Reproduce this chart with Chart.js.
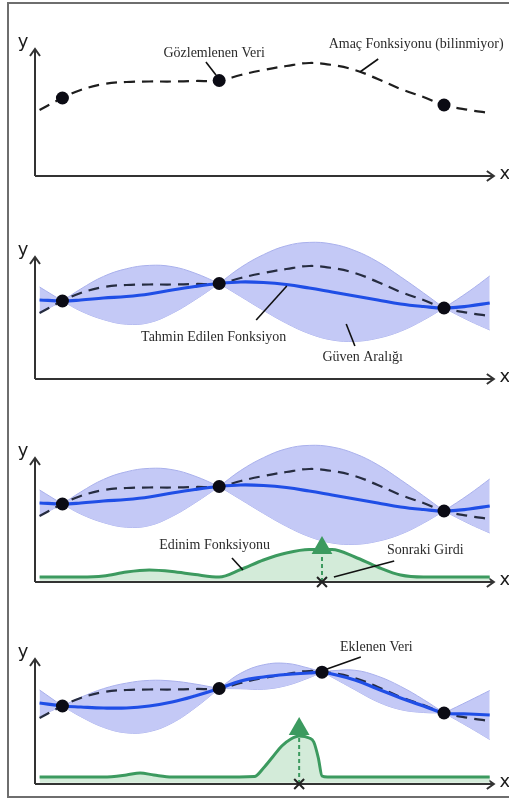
<!DOCTYPE html>
<html>
<head>
<meta charset="utf-8">
<script src="https://cdn.jsdelivr.net/npm/chart.js@4.4.1/dist/chart.umd.min.js"></script>
<style>
    html, body { margin: 0; padding: 0; background: #fff; width: 509px; height: 801px; overflow: hidden; }
    .frame { position: absolute; left: 7px; top: 2px; width: 560px; height: 796px; box-sizing: border-box; border: 2px solid #6e6e6e; }
    canvas { position: absolute; left: 0; }
</style>
</head>
<body>
<div class="frame"></div>
<canvas id="p1" width="509" height="200" style="top:0px"></canvas>
<canvas id="p2" width="509" height="200" style="top:203px"></canvas>
<canvas id="p3" width="509" height="200" style="top:406px"></canvas>
<canvas id="p4" width="509" height="200" style="top:608px"></canvas>
<script>
// sample positions along x (0 = y axis, 10 = end of x axis)
const xGrid = [0.1, 0.6, 1.0, 1.5, 2.0, 2.5, 3.0, 3.5, 4.03, 4.5, 5.0, 5.5, 6.0, 6.5, 7.0, 7.5, 8.0, 8.5, 8.95, 9.5, 9.95];
const xGrid4 = [0.1, 0.6, 1.0, 1.5, 2.0, 2.5, 3.0, 3.5, 4.03, 4.5, 5.0, 5.5, 6.0, 6.28, 6.5, 7.0, 7.5, 8.0, 8.5, 8.95, 9.5, 9.95];

// true objective (dashed)
const objective = [5.28, 6.24, 6.88, 7.36, 7.52, 7.56, 7.56, 7.6, 7.64, 8.08, 8.48, 8.8, 9.04, 8.88, 8.48, 7.76, 6.96, 6.32, 5.68, 5.28, 5.04];

// observations
const obsX = [0.6, 4.03, 8.95];
const obsY = [6.24, 7.64, 5.68];
const newX = 6.28;
const newY = 8.95;

// surrogate with 3 observations (panels 2 and 3)
const mean3 = [6.32, 6.24, 6.32, 6.48, 6.6, 6.8, 7.12, 7.4, 7.64, 7.76, 7.72, 7.56, 7.28, 6.96, 6.64, 6.32, 6.0, 5.8, 5.68, 5.84, 6.08];
const upper3 = [7.36, 6.24, 7.2, 8.21, 8.82, 9.09, 8.99, 8.47, 7.64, 8.92, 9.95, 10.66, 10.93, 10.8, 10.27, 9.38, 8.18, 6.89, 5.68, 7.02, 8.24];
const lower3 = [5.28, 6.24, 5.44, 4.75, 4.38, 4.51, 5.25, 6.33, 7.64, 6.6, 5.49, 4.46, 3.63, 3.12, 3.01, 3.26, 3.82, 4.71, 5.68, 4.66, 3.92];

// surrogate with 4 observations (panel 4)
const mean4 = [6.48, 6.24, 6.16, 6.08, 6.08, 6.24, 6.56, 7.04, 7.64, 8.24, 8.56, 8.76, 8.88, 8.95, 8.8, 8.32, 7.6, 6.88, 6.24, 5.68, 5.6, 5.52];
const upper4 = [7.52, 6.24, 6.93, 7.63, 8.07, 8.29, 8.24, 8.0, 7.64, 8.86, 9.54, 9.65, 9.26, 8.95, 9.06, 9.1, 8.63, 7.81, 6.76, 5.68, 6.66, 7.48];
const lower4 = [5.44, 6.24, 5.39, 4.53, 4.09, 4.19, 4.88, 6.08, 7.64, 7.62, 7.58, 7.87, 8.5, 8.95, 8.54, 7.54, 6.57, 5.95, 5.72, 5.68, 4.54, 3.56];

// acquisition functions
const acq3 = [0.4, 0.4, 0.4, 0.48, 0.8, 0.96, 0.84, 0.6, 0.4, 1.0, 1.76, 2.32, 2.6, 2.6, 2.0, 1.2, 0.56, 0.4, 0.4, 0.4, 0.4];
const acqX4 = [0.1, 1.5, 2.0, 2.3, 2.6, 3.0, 3.5, 4.0, 4.8, 5.0, 5.2, 5.4, 5.6, 5.78, 6.0, 6.1, 6.2, 6.28, 6.4, 7.0, 8.0, 9.0, 9.95];
const acq4 = [0.56, 0.56, 0.72, 0.88, 0.72, 0.56, 0.56, 0.56, 0.6, 1.28, 2.16, 3.04, 3.6, 3.84, 3.68, 3.36, 2.08, 0.64, 0.56, 0.56, 0.56, 0.56, 0.56];

// next input markers: x, arrow head centre, stem top
const next3 = { x: 6.28, head: 2.72, stem: 2.2 };
const next4 = { x: 5.78, head: 4.4, stem: 3.9 };

const yTips = [10.16, 9.76, 9.92, 10];

const BLUE = '#1f4ee6', BAND = '#c4c9f6', BAND_EDGE = '#a9b0ec';
const DASH = '#262c40', GREEN = '#3c9a5f', GREEN_FILL = '#d3ebd9';

function pts(xs, ys) {
    return xs.map((x, i) => ({ x: x, y: ys[i] }));
}

// band split at the observed points so it pinches sharply
function bandSets(xs, up, lo, cuts) {
    const idx = [0].concat(cuts.map(c => xs.indexOf(c)), [xs.length - 1]);
    const sets = [];
    for (let k = 0; k < idx.length - 1; k++) {
        const a = idx[k], b = idx[k + 1] + 1;
        sets.push({ data: pts(xs.slice(a, b), up.slice(a, b)), fill: '+1', backgroundColor: BAND,
            borderColor: BAND_EDGE, borderWidth: 1, tension: 0.4, order: 5 });
        sets.push({ data: pts(xs.slice(a, b), lo.slice(a, b)), fill: false,
            borderColor: BAND_EDGE, borderWidth: 1, tension: 0.4, order: 5 });
    }
    return sets;
}

function objectiveSet(color) {
    return { data: pts(xGrid, objective), borderColor: color, borderWidth: 2.2, borderDash: [11, 7],
        tension: 0.4, fill: false, order: 2 };
}
function meanSet(xs, ys) {
    return { data: pts(xs, ys), borderColor: BLUE, borderWidth: 3.2, tension: 0.4, fill: false, order: 1 };
}
function dotSet(xs, ys) {
    return { data: pts(xs, ys), showLine: false, pointRadius: 6.5, pointBackgroundColor: '#0b0b14',
        pointBorderWidth: 0, order: 0 };
}
function acqSets(xs, ys, nx) {
    return [
        { data: pts(xs, ys), borderColor: GREEN, borderWidth: 3, backgroundColor: GREEN_FILL,
            fill: { value: 0.1 }, cubicInterpolationMode: 'monotone', order: 6 },
        { data: [{ x: nx.x, y: 0 }, { x: nx.x, y: nx.stem }], borderColor: GREEN, borderWidth: 2,
            borderDash: [4, 3], fill: false, order: -1 },
        { data: [{ x: nx.x, y: nx.head }], showLine: false, pointStyle: 'triangle', pointRadius: 12,
            pointBackgroundColor: GREEN, pointBorderWidth: 0, order: -1 },
        { data: [{ x: nx.x, y: 0 }], showLine: false, pointStyle: 'crossRot', pointRadius: 7,
            pointBorderColor: '#222', pointBorderWidth: 2, clip: false, order: -2 }
    ];
}

// axes with arrow heads and x / y letters
const axesArrows = {
    id: 'axesArrows',
    beforeDatasetsDraw(chart, args, opts) {
        const { ctx, scales: { x, y } } = chart;
        const x0 = x.getPixelForValue(0), y0 = y.getPixelForValue(0);
        const yTop = y.getPixelForValue(opts.yTip), xEnd = x.getPixelForValue(10.04);
        ctx.save();
        ctx.strokeStyle = '#333';
        ctx.lineWidth = 2;
        ctx.beginPath();
        ctx.moveTo(x0, y0); ctx.lineTo(x0, yTop);
        ctx.moveTo(x0, y0); ctx.lineTo(xEnd, y0);
        ctx.stroke();
        ctx.beginPath();
        ctx.moveTo(x0 - 5, yTop + 7); ctx.lineTo(x0, yTop); ctx.lineTo(x0 + 5, yTop + 7);
        ctx.moveTo(xEnd - 7, y0 - 5); ctx.lineTo(xEnd, y0); ctx.lineTo(xEnd - 7, y0 + 5);
        ctx.stroke();
        ctx.fillStyle = '#1a1a1a';
        ctx.font = '18px "DejaVu Sans", sans-serif';
        ctx.textAlign = 'center';
        ctx.textBaseline = 'middle';
        ctx.fillText('y', x0 - 12, yTop - 7);
        ctx.fillText('x', xEnd + 11, y0 - 2);
        ctx.restore();
    }
};

// text labels with pointer lines
const notesPlugin = {
    id: 'notes',
    afterDraw(chart, args, opts) {
        const { ctx, scales: { x, y } } = chart;
        ctx.save();
        ctx.strokeStyle = '#111';
        ctx.lineWidth = 1.6;
        (opts.pointers || []).forEach(p => {
            ctx.beginPath();
            ctx.moveTo(x.getPixelForValue(p[0]), y.getPixelForValue(p[1]));
            ctx.lineTo(x.getPixelForValue(p[2]), y.getPixelForValue(p[3]));
            ctx.stroke();
        });
        ctx.fillStyle = '#2b2b2b';
        ctx.font = '14px "Liberation Serif", serif';
        ctx.textAlign = 'center';
        ctx.textBaseline = 'middle';
        (opts.labels || []).forEach(l => {
            ctx.fillText(l.text, x.getPixelForValue(l.x), y.getPixelForValue(l.y));
        });
        ctx.restore();
    }
};

function makeChart(id, datasets, yTip, notes) {
    return new Chart(document.getElementById(id), {
        type: 'line',
        data: { datasets: datasets },
        options: {
            responsive: false,
            animation: false,
            devicePixelRatio: 1,
            layout: { padding: { left: 35, right: 17, top: 26, bottom: 24 } },
            elements: { point: { radius: 0 } },
            scales: {
                x: { type: 'linear', min: 0, max: 10, display: false },
                y: { min: 0, max: 12, display: false }
            },
            plugins: {
                legend: { display: false },
                tooltip: { enabled: false },
                axesArrows: { yTip: yTip },
                notes: notes
            }
        },
        plugins: [axesArrows, notesPlugin]
    });
}

document.addEventListener('DOMContentLoaded', function() {
    const allX = obsX.concat([newX]).sort((a, b) => a - b);
    const allY = allX.map(v => v === newX ? newY : obsY[obsX.indexOf(v)]);

    makeChart('p1', [dotSet(obsX, obsY), objectiveSet('#1e1e1e')], yTips[0], {
        labels: [
            { text: 'Gözlemlenen Veri', x: 3.92, y: 9.84 },
            { text: 'Amaç Fonksiyonu (bilinmiyor)', x: 8.34, y: 10.56 }
        ],
        pointers: [[3.74, 9.12, 3.96, 8.08], [7.51, 9.36, 7.11, 8.32]]
    });

    makeChart('p2', [dotSet(obsX, obsY), meanSet(xGrid, mean3), objectiveSet(DASH)]
        .concat(bandSets(xGrid, upper3, lower3, obsX)), yTips[1], {
        labels: [
            { text: 'Tahmin Edilen Fonksiyon', x: 3.91, y: 3.36 },
            { text: 'Güven Aralığı', x: 7.17, y: 1.76 }
        ],
        pointers: [[5.51, 7.44, 4.84, 4.72], [6.81, 4.4, 7.0, 2.64]]
    });

    makeChart('p3', [dotSet(obsX, obsY), meanSet(xGrid, mean3), objectiveSet(DASH)]
        .concat(bandSets(xGrid, upper3, lower3, obsX), acqSets(xGrid, acq3, next3)), yTips[2], {
        labels: [
            { text: 'Edinim Fonksiyonu', x: 3.93, y: 2.96 },
            { text: 'Sonraki Girdi', x: 8.54, y: 2.56 }
        ],
        pointers: [[4.31, 1.92, 4.55, 0.96], [7.86, 1.68, 6.54, 0.4]]
    });

    makeChart('p4', [dotSet(allX, allY), meanSet(xGrid4, mean4), objectiveSet(DASH)]
        .concat(bandSets(xGrid4, upper4, lower4, allX), acqSets(acqX4, acq4, next4)), yTips[3], {
        labels: [{ text: 'Eklenen Veri', x: 7.47, y: 10.96 }],
        pointers: [[7.13, 10.16, 6.39, 9.2]]
    });
});
</script>
</body>
</html>
